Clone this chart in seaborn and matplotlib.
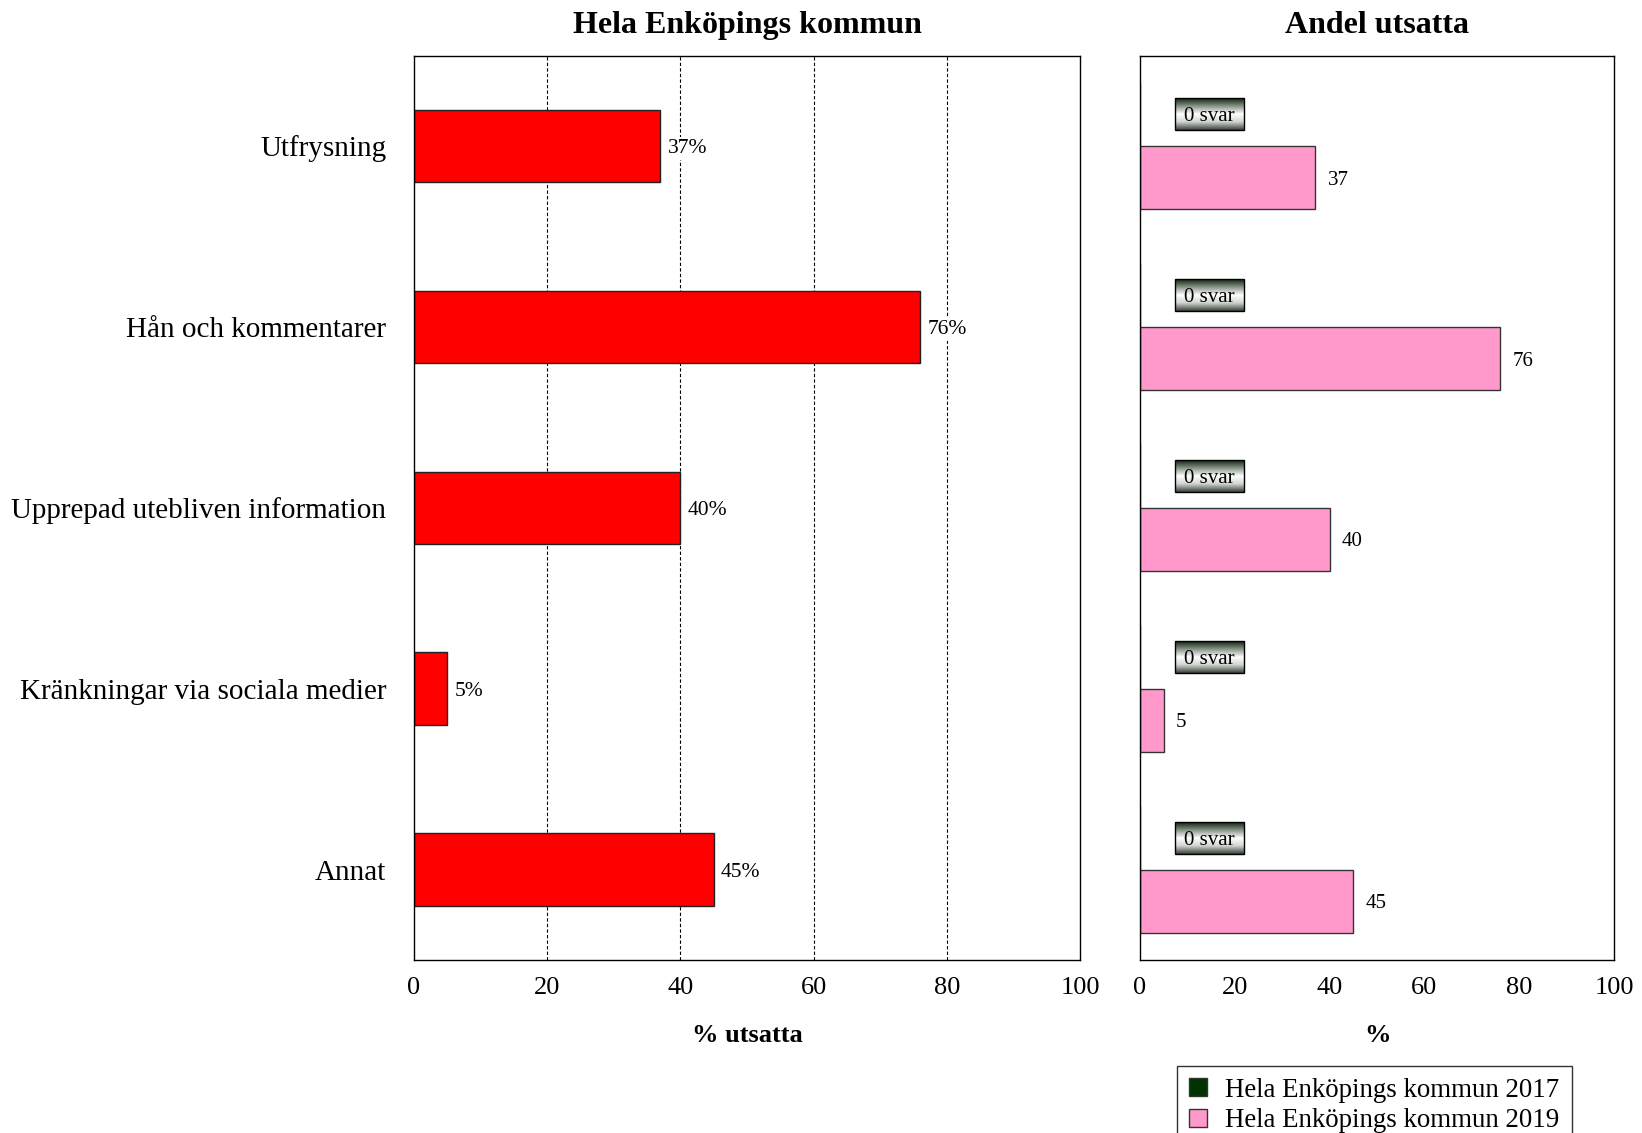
import numpy as np
import pandas as pd
import matplotlib
matplotlib.use("Agg")
import matplotlib.pyplot as plt
from matplotlib.colors import LinearSegmentedColormap
from matplotlib.patches import Rectangle, Patch
import seaborn as sns

# Survey data
kategorier = ["Utfrysning", "Hån och kommentarer", "Upprepad utebliven information",
              "Kränkningar via sociala medier", "Annat"]
andel_utsatta = [37, 76, 40, 5, 45]          # % utsatta, 2019
andel_2017 = [0, 0, 0, 0, 0]                 # no answers 2017
andel_2019 = [37, 76, 40, 5, 45]
svar_2017 = [0, 0, 0, 0, 0]                  # number of answers 2017
ar = ["Hela Enköpings kommun 2017", "Hela Enköpings kommun 2019"]
x_ticks = [0, 20, 40, 60, 80, 100]

sns.set_theme(style="white")
plt.rcParams["font.family"] = ["Liberation Serif", "DejaVu Serif"]
plt.rcParams["axes.edgecolor"] = "black"
plt.rcParams["axes.linewidth"] = 1.0
plt.rcParams["text.color"] = "black"
plt.rcParams["axes.labelcolor"] = "black"
plt.rcParams["xtick.color"] = "black"
plt.rcParams["ytick.color"] = "black"

fig = plt.figure(figsize=(16.42, 11.33), dpi=100)
ax1 = fig.add_axes([0.2521, 0.1527, 0.4056, 0.7983])
ax2 = fig.add_axes([0.6943, 0.1527, 0.2887, 0.7983])

# Left panel: whole municipality
df1 = pd.DataFrame({"kategori": kategorier, "andel": andel_utsatta})
sns.barplot(data=df1, y="kategori", x="andel", orient="h", color="#FF0000",
            width=0.4, edgecolor="#222222", linewidth=1.0, saturation=1, ax=ax1)
ax1.set_xlim(0, 100)
ax1.set_xticks(x_ticks)
ax1.set_xticklabels([str(t) for t in x_ticks], fontsize=19)
ax1.tick_params(axis="x", direction="out", length=6, width=1, color="black", pad=6)
ax1.tick_params(axis="y", length=0, pad=20, labelsize=21)
for t in x_ticks[1:-1]:
    ax1.axvline(t, color="black", linestyle=(0, (3, 2)), linewidth=0.8, zorder=0)
ax1.set_ylabel("")
ax1.set_xlabel("% utsatta", fontsize=19, fontweight="bold", labelpad=18)
ax1.set_title("Hela Enköpings kommun", fontsize=23, fontweight="bold", pad=16)
for bar, v in zip(ax1.containers[0], andel_utsatta):
    ax1.text(bar.get_width() + 1.1, bar.get_y() + bar.get_height() / 2, f"{v}%",
             va="center_baseline", ha="left", fontsize=15.5,
             bbox=dict(facecolor="white", edgecolor="none", pad=1.5))
for s in ax1.spines.values():
    s.set_visible(True)
    s.set_color("black")

# Right panel: share exposed, per year
df2 = pd.DataFrame({
    "kategori": kategorier * 2,
    "andel": andel_2017 + andel_2019,
    "år": [ar[0]] * len(kategorier) + [ar[1]] * len(kategorier),
})
palette = {ar[0]: "#003300", ar[1]: "#FF99CC"}
sns.barplot(data=df2, y="kategori", x="andel", hue="år", orient="h", palette=palette,
            width=0.7, edgecolor="#333333", linewidth=1.0, saturation=1,
            legend=False, ax=ax2)
ax2.set_xlim(0, 100)
ax2.set_xticks(x_ticks)
ax2.set_xticklabels([str(t) for t in x_ticks], fontsize=19)
ax2.tick_params(axis="x", direction="out", length=6, width=1, color="black", pad=6)
ax2.set_yticks([])
ax2.set_ylabel("")
ax2.set_xlabel("%", fontsize=19, fontweight="bold", labelpad=18)
ax2.set_title("Andel utsatta", fontsize=23, fontweight="bold", pad=16)
for s in ax2.spines.values():
    s.set_visible(True)
    s.set_color("black")

for bar, v in zip(ax2.containers[1], andel_2019):
    ax2.text(bar.get_width() + 2.6, bar.get_y() + bar.get_height() / 2, f"{v}",
             va="center_baseline", ha="left", fontsize=15)

# "0 svar" boxes in place of the empty 2017 bars
grad_cmap = LinearSegmentedColormap.from_list(
    "svar", ["#102510", "#8a958a", "#ffffff", "#d0d4d0", "#3a423a"])
grad = np.linspace(0, 1, 64).reshape(-1, 1)
box_x0, box_x1 = 7.3, 21.9
ylim = ax2.get_ylim()
for bar, n in zip(ax2.containers[0], svar_2017):
    yc = bar.get_y() + bar.get_height() / 2
    h = bar.get_height() * 0.5
    ax2.imshow(grad, cmap=grad_cmap, aspect="auto", origin="upper",
               extent=(box_x0, box_x1, yc + h / 2, yc - h / 2), zorder=3)
    ax2.add_patch(Rectangle((box_x0, yc - h / 2), box_x1 - box_x0, h, fill=False,
                            edgecolor="black", linewidth=1.0, zorder=4))
    ax2.text((box_x0 + box_x1) / 2, yc, f"{n} svar", ha="center", va="center_baseline",
             fontsize=15, zorder=5)
ax2.set_xlim(0, 100)
ax2.set_ylim(ylim)

# Legend
handles = [Patch(facecolor=palette[a], edgecolor="#333333", linewidth=1.0) for a in ar]
leg = fig.legend(handles, ar, loc="upper left", bbox_to_anchor=(0.7168, 0.0595),
                 borderaxespad=0, frameon=True, fancybox=False, edgecolor="black",
                 fontsize=19.4, handlelength=0.65, handleheight=0.65, handletextpad=0.7,
                 labelspacing=0.2, borderpad=0.45)
leg.get_frame().set_linewidth(1.0)

fig.savefig("out.png", dpi=100)
